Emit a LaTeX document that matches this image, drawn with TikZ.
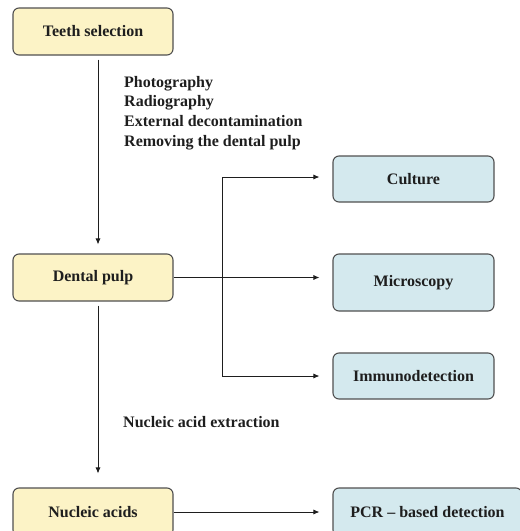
\documentclass[tikz,border=0pt]{standalone}
\usepackage{fontspec}
\setmainfont{Liberation Serif}
\usetikzlibrary{arrows.meta}
\definecolor{ybox}{HTML}{FCF3C6}
\definecolor{bbox}{HTML}{D4E9EE}
\definecolor{edge}{HTML}{505050}
\definecolor{ink}{HTML}{1E1E1E}
\tikzset{
  base/.style={draw=edge, line width=1.1pt, rounded corners=6pt, font=\fontsize{16}{19}\selectfont\bfseries, text=ink, inner sep=0pt},
  ybx/.style={base, fill=ybox, minimum width=160pt, minimum height=47pt},
  bbx/.style={base, fill=bbox, minimum width=161pt, minimum height=46pt},
  arr/.style={draw=ink, line width=0.8pt, -{Latex[length=6pt,width=5pt]}},
  lbl/.style={font=\fontsize{16}{19.6}\selectfont\bfseries, text=ink, align=left, inner sep=0pt, anchor=north west}
}
\begin{document}
\begin{tikzpicture}[x=1pt,y=-1pt]
\useasboundingbox (0,0) rectangle (520,531);
\node[ybx] (teeth) at (93,31.5) {Teeth selection};
\node[ybx] (pulp) at (93,277.5) {Dental pulp};
\node[ybx, minimum height=48pt] (nucl) at (93,512) {Nucleic acids};
\node[bbx] (culture) at (413.5,179) {Culture};
\node[bbx, minimum height=57pt] (micro) at (413.5,282.5) {Microscopy};
\node[bbx] (immuno) at (413.5,376) {Immunodetection};
\node[bbx, minimum width=189pt, minimum height=48pt] (pcr) at (427.5,512) {PCR -- based detection};
\node[lbl] (steps) at (124,76) {Photography\\Radiography\\External decontamination\\Removing the dental pulp};
\node[lbl] (extr) at (123,416) {Nucleic acid extraction};
\coordinate (br) at (222,278);
\draw[arr, shorten <=4pt, shorten >=9pt] ([xshift=5pt]teeth.south) -- ([xshift=5pt]pulp.north);
\draw[arr, shorten <=4pt, shorten >=14pt] ([xshift=5pt]pulp.south) -- ([xshift=5pt]nucl.north);
\draw[arr, shorten >=13pt] (pulp.east) -- (pulp.east -| micro.west);
\draw[arr, shorten >=13pt] (br) |- ([yshift=2pt]culture.west);
\draw[arr, shorten >=13pt] (br) |- (immuno.west);
\draw[arr, shorten >=13pt] (nucl.east) -- (pcr.west);
\end{tikzpicture}
\end{document}
